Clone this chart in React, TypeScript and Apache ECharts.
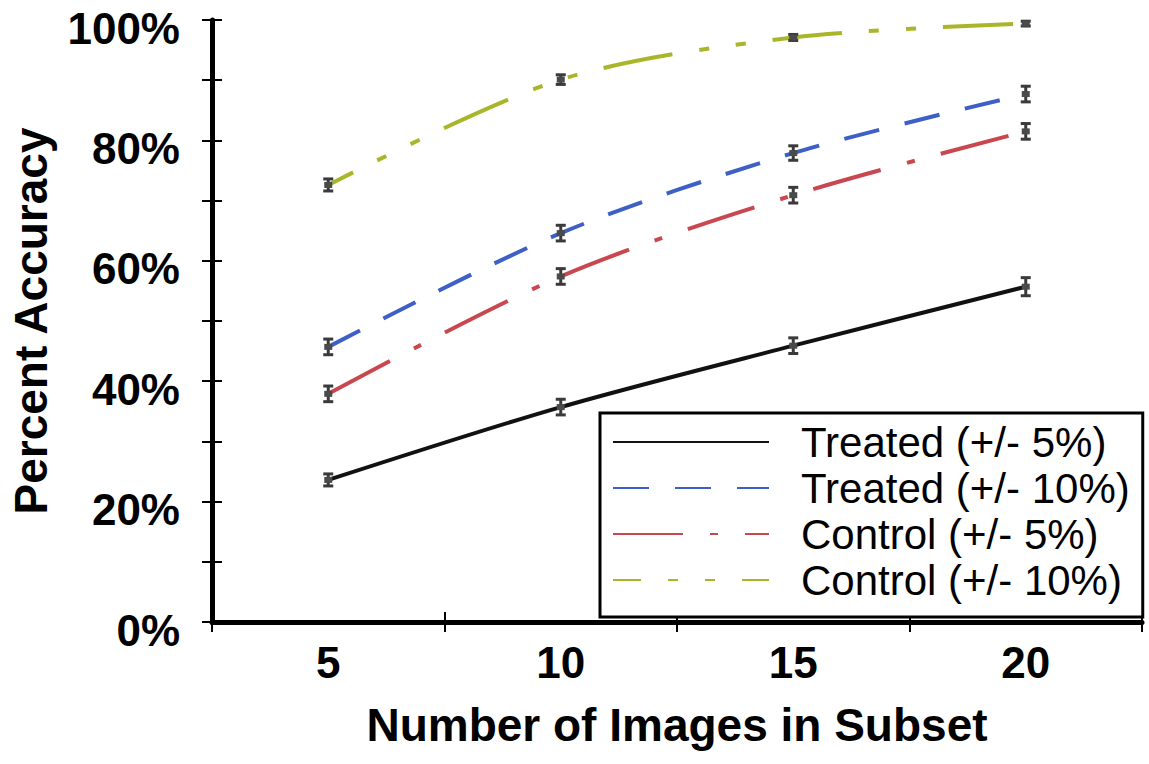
import React, { useEffect, useRef } from "react";
import * as echarts from "echarts";

const categories = ["5", "10", "15", "20"];
const yTicks = [0, 20, 40, 60, 80, 100];

const seriesNames = [
  "Treated (+/- 5%)",
  "Treated (+/- 10%)",
  "Control (+/- 5%)",
  "Control (+/- 10%)",
];
const treated5 = [23.6, 35.7, 45.9, 55.7];
const treated10 = [45.7, 64.6, 77.9, 87.7];
const control5 = [37.9, 57.4, 70.9, 81.5];
const control10 = [72.6, 90.1, 97.1, 99.4];

const treated5Err = [1.0, 1.3, 1.3, 1.5];
const treated10Err = [1.3, 1.3, 1.2, 1.3];
const control5Err = [1.3, 1.3, 1.3, 1.3];
const control10Err = [1.0, 0.8, 0.5, 0.4];

const FONT = "'Liberation Sans', Arial, sans-serif";

export default function App() {
  const ref = useRef<HTMLDivElement>(null);

  useEffect(() => {
    document.body.style.margin = "0";
    if (!ref.current) return;
    const chart = echarts.init(ref.current, undefined, { renderer: "svg" });

    const values = [treated5, treated10, control5, control10];
    const errs = [treated5Err, treated10Err, control5Err, control10Err];
    const colors = ["#111111", "#3d5fc6", "#c9474f", "#aab62a"];
    const dashes: any[] = ["solid", [36, 26], [70, 27, 8, 27], [70, 27, 10, 27, 10, 27]];
    const dashOffsets = [0, 0, 0, 42];

    const lineSeries = values.map((vals, i) => ({
      name: seriesNames[i],
      type: "line",
      xAxisIndex: 0,
      yAxisIndex: 0,
      data: vals,
      smooth: 0.3,
      symbol: "none",
      showSymbol: false,
      z: 3,
      lineStyle: {
        color: colors[i],
        width: 4,
        type: dashes[i],
        dashOffset: dashOffsets[i],
      },
      itemStyle: { color: colors[i] },
    }));

    const errSeries = values.map((vals, i) => ({
      name: "err" + i,
      type: "custom",
      xAxisIndex: 0,
      yAxisIndex: 0,
      z: 5,
      data: vals.map((v, j) => [categories[j], v, errs[i][j]]),
      renderItem: (params: any, api: any) => {
        const x = api.value(0);
        const v = api.value(1);
        const e = api.value(2);
        const top = api.coord([x, v + e]);
        const bot = api.coord([x, v - e]);
        const c = api.coord([x, v]);
        const hw = 5;
        const st = { stroke: "#3a3a3a", lineWidth: 3 };
        return {
          type: "group",
          children: [
            { type: "line", shape: { x1: c[0], y1: top[1], x2: c[0], y2: bot[1] }, style: st },
            { type: "line", shape: { x1: c[0] - hw, y1: top[1], x2: c[0] + hw, y2: top[1] }, style: st },
            { type: "line", shape: { x1: c[0] - hw, y1: bot[1], x2: c[0] + hw, y2: bot[1] }, style: st },
            { type: "rect", shape: { x: c[0] - 4, y: c[1] - 3, width: 8, height: 6 }, style: { fill: "#4a4a4a" } },
          ],
        };
      },
    }));

    const option: any = {
      animation: false,
      backgroundColor: "#ffffff",
      grid: { left: 212, right: 7, top: 20, bottom: 142, containLabel: false },
      legend: {
        data: seriesNames,
        orient: "vertical",
        left: 600,
        top: 413,
        itemWidth: 156,
        itemHeight: 14,
        itemGap: 4,
        padding: [8, 13, 16, 12],
        borderColor: "#000",
        borderWidth: 3,
        backgroundColor: "#fff",
        selectedMode: false,
        itemStyle: { color: "rgba(0,0,0,0)", borderWidth: 0, opacity: 0 },
        textStyle: {
          fontFamily: FONT,
          fontSize: 42,
          lineHeight: 40,
          color: "#000",
          padding: [0, 0, 0, 27],
        },
      },
      xAxis: [
        {
          type: "category",
          data: categories,
          boundaryGap: true,
          position: "bottom",
          name: "Number of Images in Subset",
          nameLocation: "middle",
          nameGap: 80,
          nameTextStyle: { fontFamily: FONT, fontSize: 46, fontWeight: "bold", color: "#000" },
          axisLine: { show: true, lineStyle: { color: "#000", width: 5 } },
          axisTick: { show: true, inside: false, length: 10, lineStyle: { color: "#000", width: 2 } },
          axisLabel: { fontFamily: FONT, fontSize: 44, fontWeight: "bold", color: "#000", margin: 18 },
          splitLine: { show: false },
        },
        {
          type: "category",
          data: categories,
          boundaryGap: true,
          position: "bottom",
          offset: 0,
          axisLine: { show: false },
          axisTick: { show: true, inside: true, length: 10, lineStyle: { color: "#000", width: 2 } },
          axisLabel: { show: false },
          splitLine: { show: false },
        },
      ],
      yAxis: [
        {
          type: "value",
          min: 0,
          max: 100,
          interval: 10,
          position: "left",
          name: "Percent Accuracy",
          nameLocation: "middle",
          nameGap: 158,
          nameRotate: 90,
          nameTextStyle: { fontFamily: FONT, fontSize: 46, fontWeight: "bold", color: "#000" },
          axisLine: { show: true, lineStyle: { color: "#000", width: 5 } },
          axisTick: { show: true, inside: false, length: 10, lineStyle: { color: "#000", width: 2 } },
          axisLabel: {
            fontFamily: FONT,
            fontSize: 44,
            fontWeight: "bold",
            color: "#000",
            margin: 32,
            verticalAlign: "top",
            lineHeight: 16,
            formatter: (v: number) => (yTicks.indexOf(v) >= 0 ? v + "%" : ""),
          },
          splitLine: { show: false },
        },
        {
          type: "value",
          min: 0,
          max: 100,
          interval: 10,
          position: "left",
          offset: 0,
          axisLine: { show: false },
          axisTick: { show: true, inside: true, length: 10, lineStyle: { color: "#000", width: 2 } },
          axisLabel: { show: false },
          splitLine: { show: false },
        },
      ],
      series: [...lineSeries, ...errSeries],
    };

    chart.setOption(option);
    return () => chart.dispose();
  }, []);

  return <div ref={ref} style={{ width: 1149, height: 764 }} />;
}
